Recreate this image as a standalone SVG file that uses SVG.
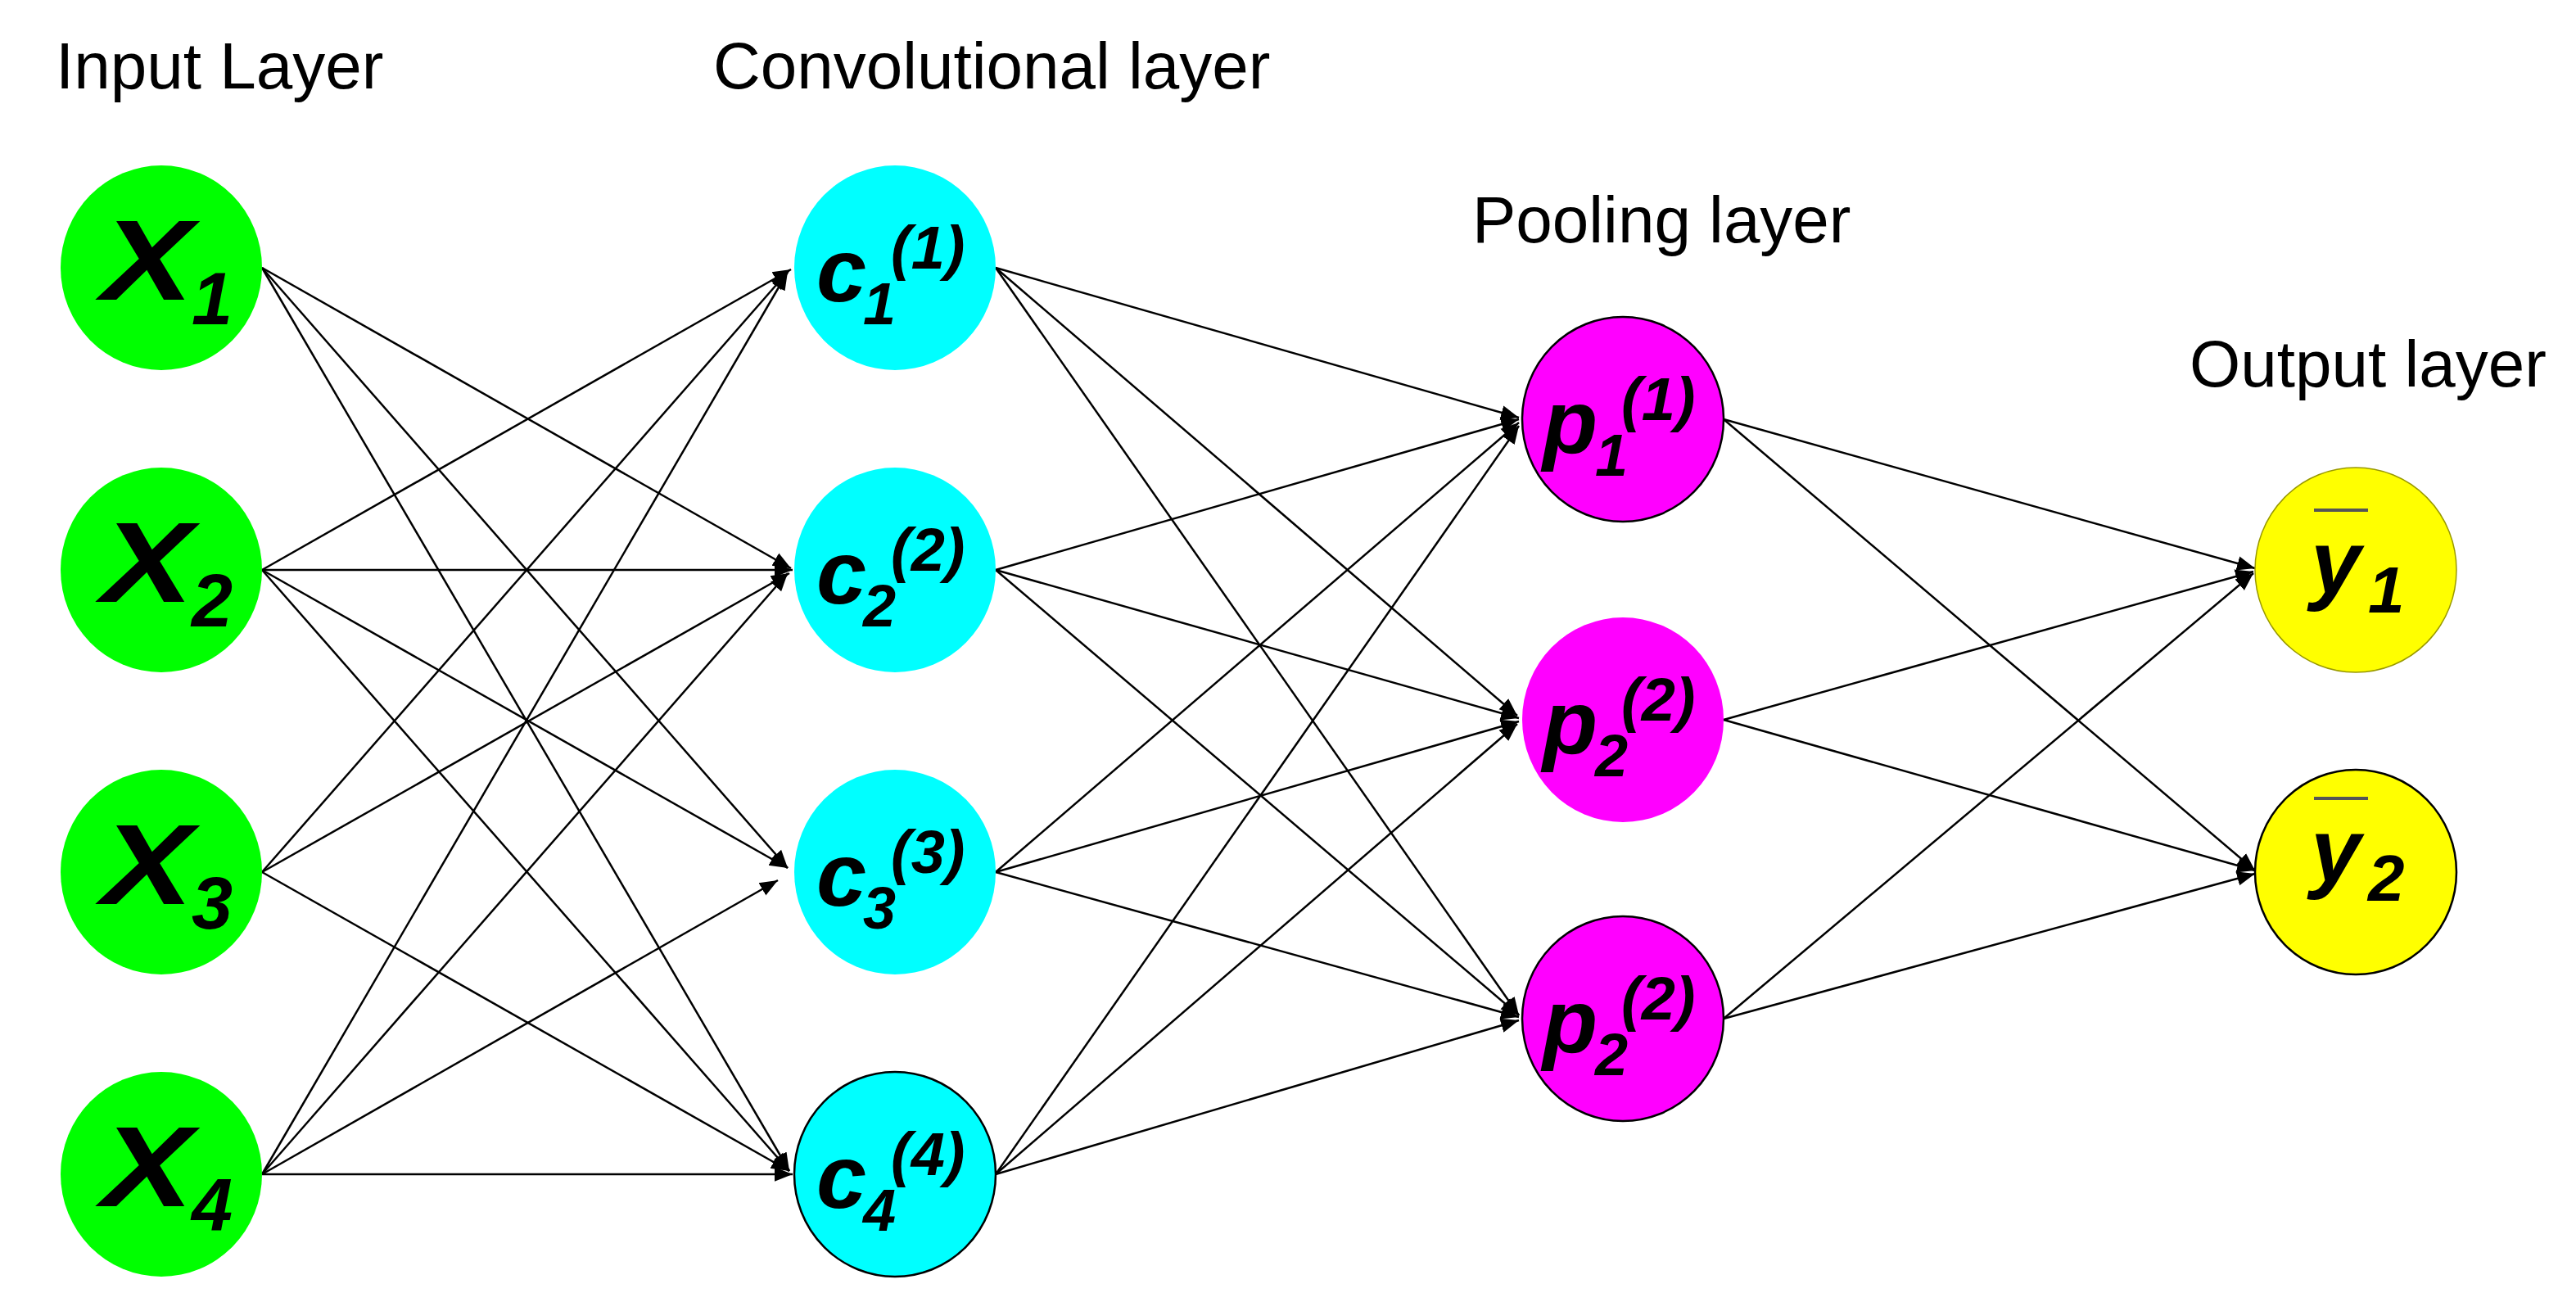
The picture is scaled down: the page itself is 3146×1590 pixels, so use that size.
<svg xmlns="http://www.w3.org/2000/svg" width="3146" height="1590" viewBox="0 0 3146 1590">
<defs>
<style>
.t{font-family:"Liberation Sans",Arial,sans-serif;font-size:80px;fill:#000}
.l{font-family:"Liberation Sans",Arial,sans-serif;font-weight:bold;font-style:italic;fill:#000}
.e line{stroke:#000;stroke-width:2.5;marker-end:url(#a)}
</style>
<marker id="a" viewBox="0 0 10 10" refX="10" refY="5" markerWidth="22" markerHeight="22" markerUnits="userSpaceOnUse" orient="auto"><path d="M0,1 L10,5 L0,9 z" fill="#000"/></marker>
</defs>
<text class="t" x="68" y="108">Input Layer</text>
<text class="t" x="871" y="108">Convolutional layer</text>
<text class="t" x="1798" y="296">Pooling layer</text>
<text class="t" x="2674" y="472">Output layer</text>
<g class="e" id="connectors">
<line x1="320" y1="327" x2="966" y2="694"/><line x1="320" y1="327" x2="962" y2="1060"/><line x1="320" y1="327" x2="964" y2="1430"/>
<line x1="320" y1="696" x2="966" y2="329"/><line x1="320" y1="696" x2="968" y2="696"/><line x1="320" y1="696" x2="962" y2="1060"/><line x1="320" y1="696" x2="964" y2="1430"/>
<line x1="320" y1="1065" x2="962" y2="332"/><line x1="320" y1="1065" x2="964" y2="700"/><line x1="320" y1="1065" x2="964" y2="1430"/>
<line x1="320" y1="1434" x2="962" y2="332"/><line x1="320" y1="1434" x2="962" y2="700"/><line x1="320" y1="1434" x2="950" y2="1075"/><line x1="320" y1="1434" x2="968" y2="1434"/>
<line x1="1216" y1="327" x2="1855" y2="510"/><line x1="1216" y1="327" x2="1853" y2="874"/><line x1="1216" y1="327" x2="1855" y2="1240"/>
<line x1="1216" y1="696" x2="1855" y2="512"/><line x1="1216" y1="696" x2="1855" y2="877"/><line x1="1216" y1="696" x2="1855" y2="1240"/>
<line x1="1216" y1="1065" x2="1855" y2="516"/><line x1="1216" y1="1065" x2="1855" y2="881"/><line x1="1216" y1="1065" x2="1855" y2="1242"/>
<line x1="1216" y1="1434" x2="1855" y2="520"/><line x1="1216" y1="1434" x2="1853" y2="884"/><line x1="1216" y1="1434" x2="1855" y2="1246"/>
<line x1="2105" y1="512" x2="2754" y2="694"/><line x1="2105" y1="512" x2="2754" y2="1063"/>
<line x1="2105" y1="879" x2="2752" y2="698"/><line x1="2105" y1="879" x2="2754" y2="1063"/>
<line x1="2105" y1="1244" x2="2752" y2="700"/><line x1="2105" y1="1244" x2="2754" y2="1067"/>
</g>
<g id="x1"><ellipse cx="197" cy="327" rx="123" ry="125" fill="#00ff00"/><text class="l" x="124" y="366" font-size="140" textLength="112" lengthAdjust="spacingAndGlyphs">X</text><text class="l" x="234" y="396" font-size="90">1</text></g>
<g id="x2"><ellipse cx="197" cy="696" rx="123" ry="125" fill="#00ff00"/><text class="l" x="124" y="735" font-size="140" textLength="112" lengthAdjust="spacingAndGlyphs">X</text><text class="l" x="234" y="765" font-size="90">2</text></g>
<g id="x3"><ellipse cx="197" cy="1065" rx="123" ry="125" fill="#00ff00"/><text class="l" x="124" y="1104" font-size="140" textLength="112" lengthAdjust="spacingAndGlyphs">X</text><text class="l" x="234" y="1134" font-size="90">3</text></g>
<g id="x4"><ellipse cx="197" cy="1434" rx="123" ry="125" fill="#00ff00"/><text class="l" x="124" y="1473" font-size="140" textLength="112" lengthAdjust="spacingAndGlyphs">X</text><text class="l" x="234" y="1503" font-size="90">4</text></g>
<g id="c1"><ellipse cx="1093" cy="327" rx="123" ry="125" fill="#00ffff"/><text class="l" x="997" y="368" font-size="110">c</text><text class="l" x="1054" y="396" font-size="72">1</text><text class="l" x="1088" y="328" font-size="74">(1)</text></g>
<g id="c2"><ellipse cx="1093" cy="696" rx="123" ry="125" fill="#00ffff"/><text class="l" x="997" y="737" font-size="110">c</text><text class="l" x="1054" y="765" font-size="72">2</text><text class="l" x="1088" y="697" font-size="74">(2)</text></g>
<g id="c3"><ellipse cx="1093" cy="1065" rx="123" ry="125" fill="#00ffff"/><text class="l" x="997" y="1106" font-size="110">c</text><text class="l" x="1054" y="1134" font-size="72">3</text><text class="l" x="1088" y="1066" font-size="74">(3)</text></g>
<g id="c4"><ellipse cx="1093" cy="1434" rx="123" ry="125" fill="#00ffff" stroke="#000" stroke-width="2.5"/><text class="l" x="997" y="1475" font-size="110">c</text><text class="l" x="1054" y="1503" font-size="72">4</text><text class="l" x="1088" y="1435" font-size="74">(4)</text></g>
<g id="p1"><ellipse cx="1982" cy="512" rx="123" ry="125" fill="#ff00ff" stroke="#000" stroke-width="2.5"/><text class="l" x="1884" y="553" font-size="110">p</text><text class="l" x="1948" y="581" font-size="72">1</text><text class="l" x="1980" y="513" font-size="74">(1)</text></g>
<g id="p2"><ellipse cx="1982" cy="879" rx="123" ry="125" fill="#ff00ff"/><text class="l" x="1884" y="920" font-size="110">p</text><text class="l" x="1948" y="948" font-size="72">2</text><text class="l" x="1980" y="880" font-size="74">(2)</text></g>
<g id="p3"><ellipse cx="1982" cy="1244" rx="123" ry="125" fill="#ff00ff" stroke="#000" stroke-width="2.5"/><text class="l" x="1884" y="1285" font-size="110">p</text><text class="l" x="1948" y="1313" font-size="72">2</text><text class="l" x="1980" y="1245" font-size="74">(2)</text></g>
<g id="y1"><ellipse cx="2877" cy="696" rx="123" ry="125" fill="#ffff00" stroke="#999900" stroke-width="1.5"/><rect x="2826" y="621" width="66" height="4" fill="#555"/><text class="l" x="2822" y="724" font-size="110">y</text><text class="l" x="2892" y="748" font-size="80">1</text></g>
<g id="y2"><ellipse cx="2877" cy="1065" rx="123" ry="125" fill="#ffff00" stroke="#000" stroke-width="2.5"/><rect x="2826" y="973" width="66" height="4" fill="#555"/><text class="l" x="2822" y="1076" font-size="110">y</text><text class="l" x="2892" y="1100" font-size="80">2</text></g>
</svg>
